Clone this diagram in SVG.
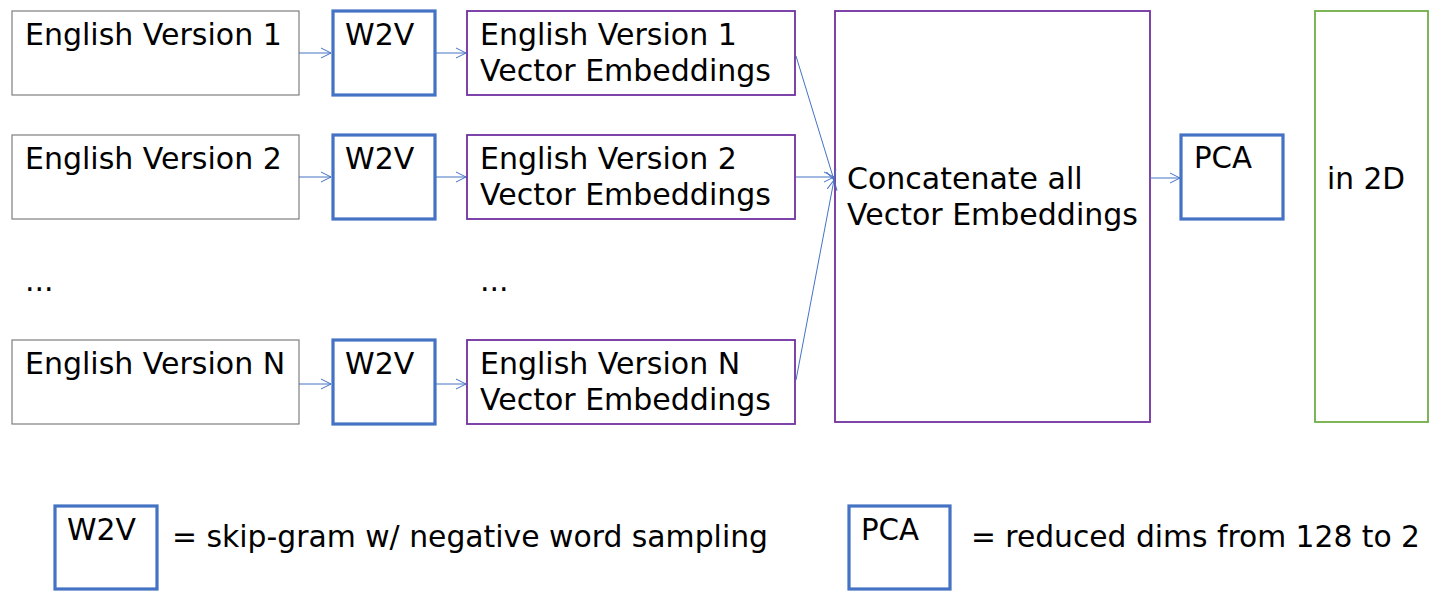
<svg xmlns="http://www.w3.org/2000/svg" width="1456" height="609" viewBox="0 0 1456 609">
<defs>
<marker id="arr" markerWidth="12" markerHeight="12" refX="10" refY="6" orient="auto" markerUnits="userSpaceOnUse">
<path d="M0,1 L10,6 L0,11" fill="none" stroke="#4472c4" stroke-width="1"/>
</marker>
<style>
text{font-family:"DejaVu Sans","Verdana",sans-serif;font-size:30px;fill:#000}
.src{fill:#fff;stroke:#7f7f7f;stroke-width:1.2}
.w2v{fill:#fff;stroke:#4472c4;stroke-width:3.2}
.ve{fill:#fff;stroke:#7030a0;stroke-width:1.8}
.out{fill:#fff;stroke:#70ad47;stroke-width:1.8}
.c{fill:none;stroke:#4472c4;stroke-width:1;marker-end:url(#arr)}
</style>
</defs>
<rect width="1456" height="609" fill="#fff"/>
<g id="src1"><rect class="src" x="12" y="11" width="287" height="84"/><text x="25" y="45">English Version 1</text></g>
<g id="src2"><rect class="src" x="12" y="135" width="287" height="84"/><text x="25" y="169">English Version 2</text></g>
<g id="dots1"><text x="25" y="291">...</text></g>
<g id="srcN"><rect class="src" x="12" y="340" width="287" height="84"/><text x="25" y="374">English Version N</text></g>
<g id="w2v1"><rect class="w2v" x="333" y="11" width="102" height="84"/><text x="345" y="45">W2V</text></g>
<g id="w2v2"><rect class="w2v" x="333" y="135" width="102" height="84"/><text x="345" y="169">W2V</text></g>
<g id="w2vN"><rect class="w2v" x="333" y="340" width="102" height="84"/><text x="345" y="374">W2V</text></g>
<g id="ve1"><rect class="ve" x="467" y="11" width="328" height="84"/><text x="480" y="45">English Version 1</text><text x="480" y="81">Vector Embeddings</text></g>
<g id="ve2"><rect class="ve" x="467" y="135" width="328" height="84"/><text x="480" y="169">English Version 2</text><text x="480" y="205">Vector Embeddings</text></g>
<g id="dots2"><text x="480" y="291">...</text></g>
<g id="veN"><rect class="ve" x="467" y="340" width="328" height="84"/><text x="480" y="374">English Version N</text><text x="480" y="410">Vector Embeddings</text></g>
<g id="concat"><rect class="ve" x="835" y="11" width="315" height="411"/><text x="847" y="189">Concatenate all</text><text x="847" y="225">Vector Embeddings</text></g>
<g id="pca"><rect class="w2v" x="1181" y="135" width="102" height="84"/><text x="1194" y="168" textLength="58" lengthAdjust="spacingAndGlyphs">PCA</text></g>
<g id="out2d"><rect class="out" x="1315" y="11" width="113" height="411"/><text x="1327" y="189" textLength="78" lengthAdjust="spacingAndGlyphs">in 2D</text></g>
<g id="legend1"><rect class="w2v" x="55" y="506" width="102" height="83"/><text x="67" y="540" textLength="69" lengthAdjust="spacingAndGlyphs">W2V</text><text x="172" y="547" textLength="596" lengthAdjust="spacingAndGlyphs">= skip-gram w/ negative word sampling</text></g>
<g id="legend2"><rect class="w2v" x="849" y="506" width="101" height="83"/><text x="861" y="540" textLength="58" lengthAdjust="spacingAndGlyphs">PCA</text><text x="971" y="547" textLength="449" lengthAdjust="spacingAndGlyphs">= reduced dims from 128 to 2</text></g>
<g id="connectors">
<line class="c" x1="299" y1="53" x2="331" y2="53"/>
<line class="c" x1="299" y1="177" x2="331" y2="177"/>
<line class="c" x1="299" y1="384" x2="331" y2="384"/>
<line class="c" x1="435" y1="53" x2="466" y2="53"/>
<line class="c" x1="435" y1="177" x2="466" y2="177"/>
<line class="c" x1="435" y1="384" x2="466" y2="384"/>
<line class="c" x1="796" y1="56" x2="834" y2="180"/>
<line class="c" x1="796" y1="177" x2="834" y2="177"/>
<line class="c" x1="796" y1="380" x2="834" y2="180"/>
<line class="c" x1="1150" y1="178" x2="1180" y2="178"/>
</g>
</svg>
